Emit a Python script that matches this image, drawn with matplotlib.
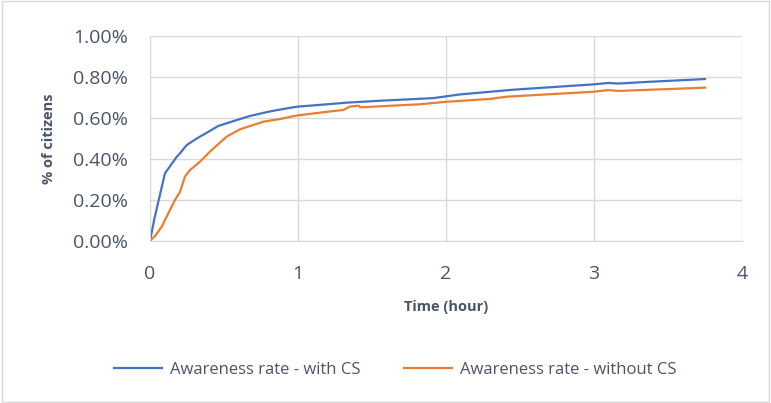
import matplotlib
matplotlib.use("Agg")
import matplotlib.pyplot as plt
from matplotlib.ticker import FuncFormatter
from matplotlib.patches import Rectangle

# Data (percent of citizens)
time_with = [0.0, 0.03, 0.101, 0.18, 0.203, 0.248, 0.316, 0.383, 0.461, 0.586, 0.676, 0.81, 0.878,
             0.99, 1.216, 1.33, 1.576, 1.914, 2.095, 2.455, 2.995, 3.097, 3.165, 3.356, 3.75]
aware_with = [0.0, 0.11, 0.33, 0.41, 0.428, 0.468, 0.50, 0.528, 0.561, 0.59, 0.61, 0.632, 0.641,
              0.655, 0.668, 0.675, 0.685, 0.697, 0.715, 0.738, 0.764, 0.771, 0.768, 0.776, 0.79]

time_without = [0.0, 0.04, 0.079, 0.135, 0.169, 0.203, 0.236, 0.27, 0.338, 0.405, 0.518, 0.608,
                0.766, 0.878, 0.99, 1.216, 1.306, 1.351, 1.41, 1.42, 1.824, 2.0, 2.297, 2.41,
                2.995, 3.097, 3.165, 3.75]
aware_without = [0.0, 0.03, 0.07, 0.151, 0.2, 0.24, 0.314, 0.346, 0.387, 0.436, 0.509, 0.545,
                 0.582, 0.595, 0.612, 0.632, 0.639, 0.656, 0.66, 0.652, 0.667, 0.679, 0.693, 0.704,
                 0.728, 0.736, 0.732, 0.748]

x_ticks = [0, 1, 2, 3, 4]
y_ticks = [0.0, 0.2, 0.4, 0.6, 0.8, 1.0]

plt.rcParams['font.family'] = ['Open Sans', 'DejaVu Sans']

fig = plt.figure(figsize=(7.71, 4.03), dpi=100)
ax = fig.add_axes([150/771, 1-241/403, (742-150)/771, (241-36)/403])

text_col = '#4a5568'
grid_col = '#d9d9d9'

ax.plot(time_with, aware_with, color='#4472C4', lw=1.6, label='Awareness rate - with CS')
ax.plot(time_without, aware_without, color='#ED7D31', lw=1.6, label='Awareness rate - without CS')

ax.set_xlim(0, 4)
ax.set_ylim(0, 1.0)
ax.set_xticks(x_ticks)
ax.set_yticks(y_ticks)
ax.yaxis.set_major_formatter(FuncFormatter(lambda v, p: f"{v:.2f}%"))
ax.grid(True, color=grid_col, lw=1)
ax.set_axisbelow(True)
for s in ['top', 'right']:
    ax.spines[s].set_visible(False)
ax.spines['left'].set_color(grid_col)
ax.spines['bottom'].set_color(grid_col)
ax.tick_params(length=0, labelsize=14, colors=text_col)
ax.tick_params(axis='x', pad=17)
ax.tick_params(axis='y', pad=16)

ax.set_xlabel('Time (hour)', fontsize=10.5, fontweight='bold', color=text_col)
ax.set_ylabel('% of citizens', fontsize=10.5, fontweight='bold', color=text_col)
ax.xaxis.set_label_coords(0.5, -(300-241)/205, transform=ax.transAxes)
ax.yaxis.set_label_coords(-(150-56)/592, 0.5, transform=ax.transAxes)

leg = fig.legend(loc='center', bbox_to_anchor=(395/771, 1-370/403), ncol=2, frameon=False,
                 fontsize=12, handlelength=2.9, handletextpad=0.45, columnspacing=2.6,
                 labelcolor=text_col)

fig.patches.append(Rectangle((0.003, 0.003), 0.994, 0.994, transform=fig.transFigure,
                             fill=False, edgecolor=grid_col, lw=1))

fig.savefig('out.png', dpi=100)
